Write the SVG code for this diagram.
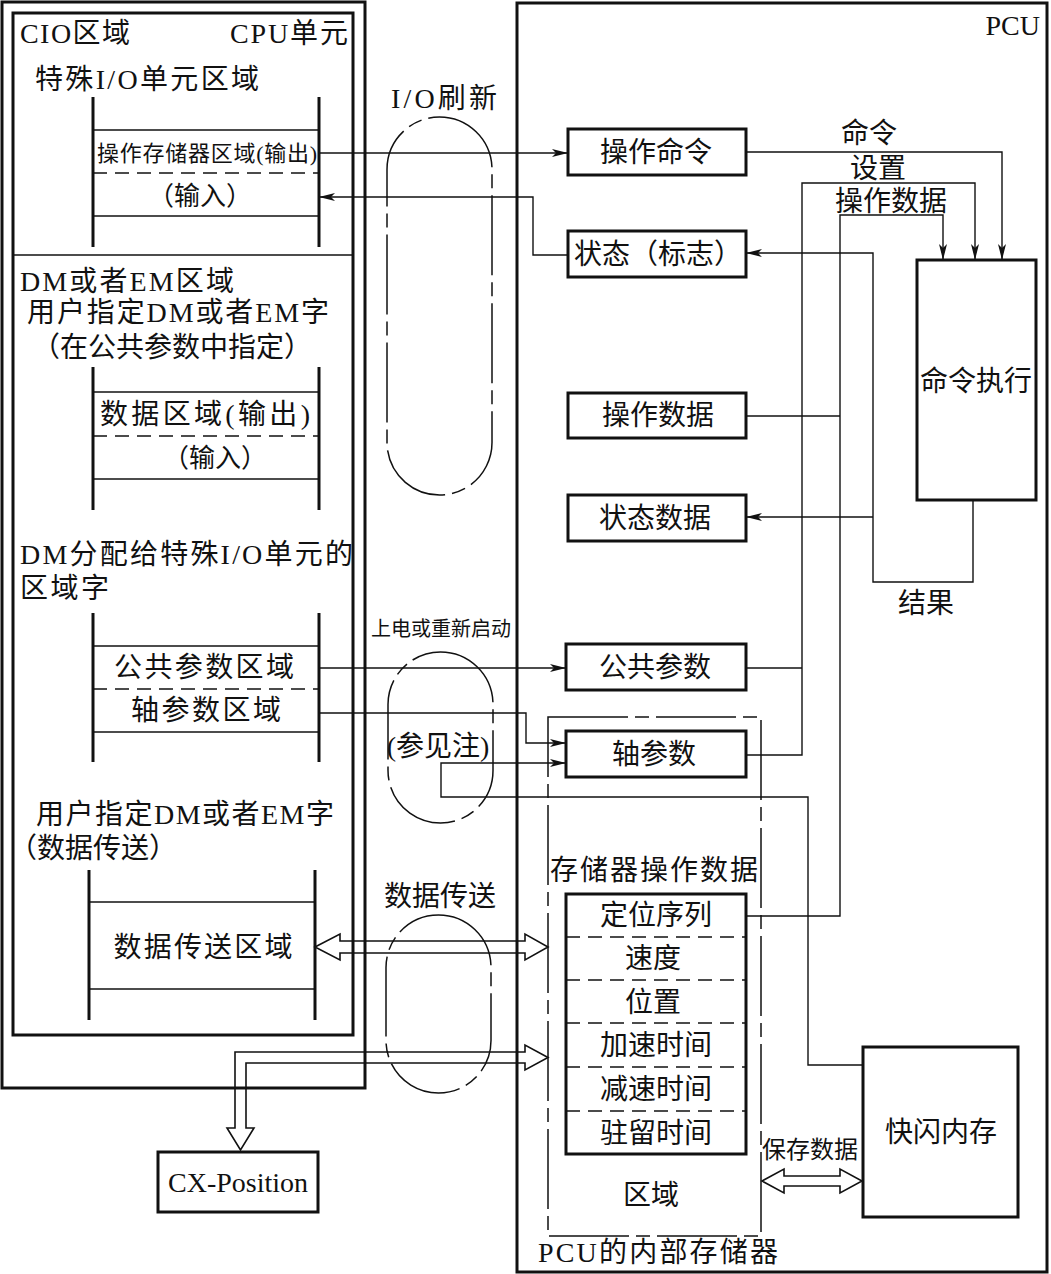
<svg xmlns="http://www.w3.org/2000/svg" width="1051" height="1274" viewBox="0 0 1051 1274">
<defs>
<style>
text{font-family:"Liberation Serif","Noto Sans CJK SC",serif;fill:#111;}
.t28{font-size:28px;}
.t26{font-size:26px;}
.t22{font-size:22px;}
.t24{font-size:24px;}
.t20{font-size:20px;}
.c{text-anchor:middle;}
.m{dominant-baseline:central;}
.e{text-anchor:end;}
.box{fill:#fff;stroke:#111;stroke-width:3;}
.frame{fill:none;stroke:#111;stroke-width:3;}
.bar{stroke:#111;stroke-width:3;fill:none;}
.hl{stroke:#111;stroke-width:1.5;fill:none;}
.dl{stroke:#111;stroke-width:1.5;fill:none;stroke-dasharray:14 8;}
.dd{stroke:#111;stroke-width:1.5;fill:none;stroke-dasharray:80 7 14 7;}
.ln{stroke:#111;stroke-width:1.4;fill:none;}
.arr{marker-end:url(#ah);}
.hol{fill:none;stroke:#111;stroke-width:1.6;stroke-linejoin:miter;}
</style>
<marker id="ah" markerUnits="userSpaceOnUse" markerWidth="16" markerHeight="8" refX="16" refY="4" orient="auto">
<path d="M0,0 L16,4 L0,8 L4,4 Z" fill="#111"/>
</marker>
</defs>
<rect width="1051" height="1274" fill="#fff"/>

<g id="cpu-unit">
<rect class="frame" x="2" y="2" width="363" height="1086"/>
<rect class="frame" x="13" y="13" width="340" height="1022"/>
<line class="hl" x1="13" y1="255" x2="353" y2="255"/>
<text class="t28" x="20" y="43" textLength="110" lengthAdjust="spacing">CIO区域</text>
<text class="t28" x="230" y="43" textLength="118" lengthAdjust="spacing">CPU单元</text>
<text class="t28" x="35" y="89" textLength="224" lengthAdjust="spacing">特殊I/O单元区域</text>
</g>

<g id="special-io-area">
<line class="bar" x1="93" y1="97" x2="93" y2="247"/>
<line class="bar" x1="319" y1="97" x2="319" y2="247"/>
<line class="hl" x1="93" y1="130" x2="319" y2="130"/>
<line class="dl" x1="93" y1="173" x2="319" y2="173"/>
<line class="hl" x1="93" y1="216" x2="319" y2="216"/>
<text class="t22 c m" x="207" y="153" textLength="220" lengthAdjust="spacing">操作存储器区域(输出)</text>
<text class="t26 c m" x="200" y="196">（输入）</text>
</g>

<g id="dm-em-area">
<text class="t28" x="20" y="291" textLength="214" lengthAdjust="spacing">DM或者EM区域</text>
<text class="t28" x="27" y="322" textLength="302" lengthAdjust="spacing">用户指定DM或者EM字</text>
<text class="t28 c" x="172" y="357">（在公共参数中指定）</text>
<line class="bar" x1="93" y1="367" x2="93" y2="510"/>
<line class="bar" x1="319" y1="367" x2="319" y2="510"/>
<line class="hl" x1="93" y1="392" x2="319" y2="392"/>
<line class="dl" x1="93" y1="436" x2="319" y2="436"/>
<line class="hl" x1="93" y1="479" x2="319" y2="479"/>
<text class="t28 c m" x="205" y="414" textLength="210" lengthAdjust="spacing">数据区域(输出)</text>
<text class="t26 c m" x="215" y="458">（输入）</text>
</g>

<g id="dm-alloc-area">
<text class="t28" x="20" y="564" textLength="333" lengthAdjust="spacing">DM分配给特殊I/O单元的</text>
<text class="t28" x="20" y="598" textLength="89" lengthAdjust="spacing">区域字</text>
<line class="bar" x1="93" y1="613" x2="93" y2="762"/>
<line class="bar" x1="319" y1="613" x2="319" y2="762"/>
<line class="hl" x1="93" y1="646" x2="319" y2="646"/>
<line class="dl" x1="93" y1="689" x2="319" y2="689"/>
<line class="hl" x1="93" y1="732" x2="319" y2="732"/>
<text class="t28 c m" x="204" y="667" textLength="180" lengthAdjust="spacing">公共参数区域</text>
<text class="t28 c m" x="206" y="710" textLength="150" lengthAdjust="spacing">轴参数区域</text>
</g>

<g id="data-transfer-area">
<text class="t28" x="36" y="824" textLength="298" lengthAdjust="spacing">用户指定DM或者EM字</text>
<text class="t28 c" x="93" y="858">（数据传送）</text>
<line class="bar" x1="89" y1="870" x2="89" y2="1020"/>
<line class="bar" x1="315" y1="870" x2="315" y2="1020"/>
<line class="hl" x1="89" y1="902" x2="315" y2="902"/>
<line class="hl" x1="89" y1="989" x2="315" y2="989"/>
<text class="t28 c m" x="203" y="947" textLength="179" lengthAdjust="spacing">数据传送区域</text>
</g>

<g id="io-refresh">
<rect class="dd" x="387" y="117" width="105" height="378" rx="52.5"/>
<text class="t28 c" x="444" y="108" textLength="106" lengthAdjust="spacing">I/O刷新</text>
</g>

<g id="power-on">
<rect class="dd" x="388" y="652" width="105" height="171" rx="52.5"/>
<text class="t20 c" x="441" y="636">上电或重新启动</text>
<text class="t28 c" x="438" y="756">(参见注)</text>
</g>

<g id="data-transfer">
<rect class="dd" x="386" y="915" width="105" height="178" rx="52.5"/>
<text class="t28 c" x="440" y="906">数据传送</text>
</g>

<g id="pcu">
<rect class="frame" x="517" y="3" width="530" height="1269"/>
<text class="t28 e" x="1040" y="35">PCU</text>
</g>

<g id="internal-memory">
<rect class="dd" x="548" y="717" width="213" height="519"/>
<text class="t28 c" x="654" y="880" textLength="208" lengthAdjust="spacing">存储器操作数据</text>
<text class="t28 c" x="651" y="1205">区域</text>
<text class="t28 c" x="658" y="1262" textLength="240" lengthAdjust="spacing">PCU的内部存储器</text>
</g>

<g id="op-command">
<rect class="box" x="568" y="129" width="178" height="46"/>
<text class="t28 c m" x="656" y="152">操作命令</text>
</g>
<g id="status-flag">
<rect class="box" x="568" y="231" width="178" height="46"/>
<text class="t28 c m" x="658" y="254">状态（标志）</text>
</g>
<g id="cmd-exec">
<rect class="box" x="917" y="260" width="119" height="240"/>
<text class="t28 c m" x="976" y="381">命令执行</text>
</g>
<g id="op-data">
<rect class="box" x="568" y="393" width="178" height="45"/>
<text class="t28 c m" x="658" y="415">操作数据</text>
</g>
<g id="status-data">
<rect class="box" x="568" y="495" width="178" height="46"/>
<text class="t28 c m" x="655" y="518">状态数据</text>
</g>
<g id="common-param">
<rect class="box" x="566" y="644" width="180" height="46"/>
<text class="t28 c m" x="655" y="667">公共参数</text>
</g>
<g id="axis-param">
<rect class="box" x="566" y="731" width="180" height="46"/>
<text class="t28 c m" x="654" y="754">轴参数</text>
</g>
<g id="memory-op-data">
<rect class="box" x="566" y="894" width="180" height="260"/>
<line class="dl" x1="566" y1="937" x2="746" y2="937"/>
<line class="dl" x1="566" y1="980" x2="746" y2="980"/>
<line class="dl" x1="566" y1="1023" x2="746" y2="1023"/>
<line class="dl" x1="566" y1="1067" x2="746" y2="1067"/>
<line class="dl" x1="566" y1="1111" x2="746" y2="1111"/>
<text class="t28 c m" x="656" y="915">定位序列</text>
<text class="t28 c m" x="653" y="958">速度</text>
<text class="t28 c m" x="653" y="1002">位置</text>
<text class="t28 c m" x="656" y="1045">加速时间</text>
<text class="t28 c m" x="656" y="1089">减速时间</text>
<text class="t28 c m" x="656" y="1133">驻留时间</text>
</g>
<g id="flash">
<rect class="box" x="863" y="1047" width="155" height="170"/>
<text class="t28 c m" x="941" y="1132">快闪内存</text>
</g>
<g id="cx-position">
<rect class="box" x="158" y="1152" width="160" height="60"/>
<text class="t28 c m" x="238" y="1182">CX-Position</text>
</g>

<g id="connectors">
<path class="ln arr" d="M319,153 H568"/>
<path class="ln arr" d="M568,255 H533 V197 H319"/>
<path class="ln arr" d="M746,152 H1002 V260"/>
<path class="ln" d="M746,668 H802"/>
<path class="ln arr" d="M746,755 H802 V183 H975 V260"/>
<path class="ln" d="M746,416 H840"/>
<path class="ln arr" d="M746,916 H840 V215 H943 V260"/>
<path class="ln arr" d="M973,500 V582 H873 V253 H746"/>
<path class="ln arr" d="M873,517 H746"/>
<path class="ln arr" d="M319,668 H566"/>
<path class="ln arr" d="M319,713 H526 V743 H566"/>
<path class="ln arr" d="M863,1065 H808 V797 H441 V763 H566"/>
<path class="hol" d="M315,947 L340,934 L340,941 L525,941 L525,934 L548,947 L525,960 L525,953 L340,953 L340,960 Z"/>
<path class="hol" d="M548,1057.5 L525,1045 L525,1052 L235,1052 L235,1128 L227,1128 L240.5,1150 L254,1128 L246,1128 L246,1063 L525,1063 L525,1070 Z"/>
<path class="hol" d="M762,1181 L784,1169 L784,1176 L840,1176 L840,1169 L862,1181 L840,1193 L840,1186 L784,1186 L784,1193 Z"/>
<text class="t28 c" x="869" y="143">命令</text>
<text class="t28 c" x="878" y="178">设置</text>
<text class="t28 c" x="891" y="211">操作数据</text>
<text class="t28 c" x="926" y="613">结果</text>
<text class="t24 c" x="810" y="1158">保存数据</text>
</g>
</svg>
